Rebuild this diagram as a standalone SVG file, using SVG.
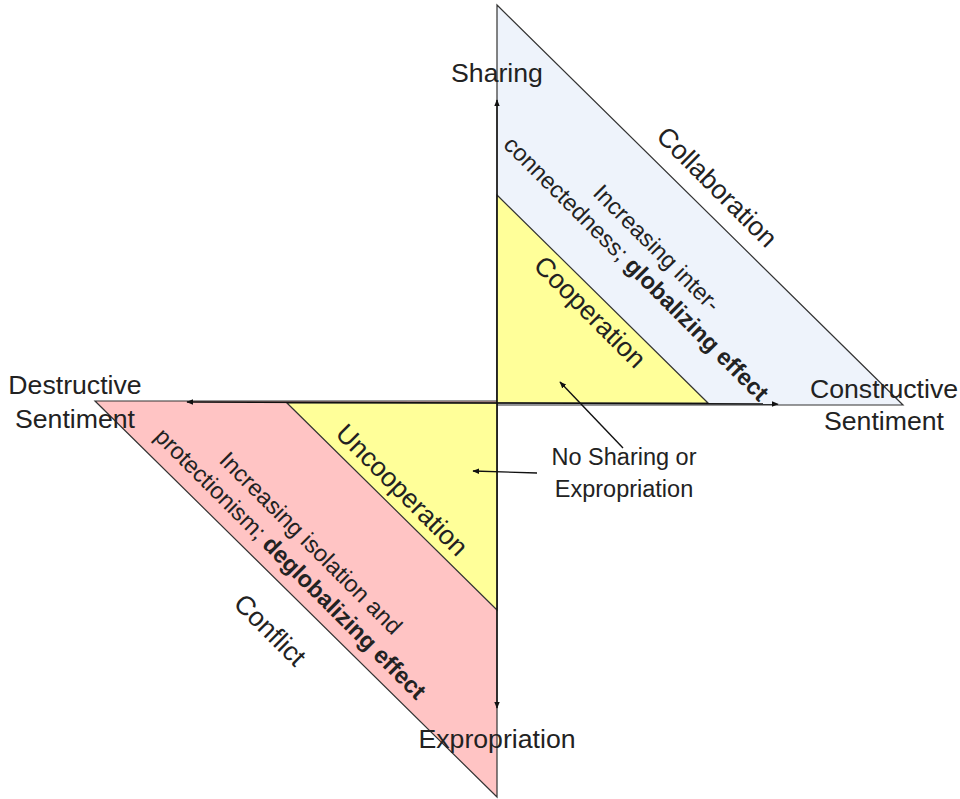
<svg xmlns="http://www.w3.org/2000/svg" width="960" height="799" viewBox="0 0 960 799">
<defs>
<style>
text{font-family:"Liberation Sans",Arial,sans-serif;fill:#222}
.big{font-size:26.67px}
.mid{font-size:23.5px}
.b{font-weight:bold}
.tri{stroke:#333;stroke-width:1.2}
.ax{stroke:#111;stroke-width:1.4;fill:none}
</style>
<marker id="ah" viewBox="0 0 10 10" refX="9" refY="5" markerWidth="7" markerHeight="7" orient="auto" markerUnits="userSpaceOnUse">
<path d="M0,1 L10,5 L0,9 z" fill="#111"/>
</marker>
</defs>
<rect width="960" height="799" fill="#fff"/>
<g id="collaboration">
<polygon class="tri" points="497,5 903,405 497,405" fill="#eef3fb"/>
</g>
<g id="conflict">
<polygon class="tri" points="95,401 497,401 497,797" fill="#ffc4c4"/>
</g>
<g id="cooperation">
<polygon class="tri" points="497,195 708,403 497,403" fill="#ffff99"/>
</g>
<g id="uncooperation">
<polygon class="tri" points="287,403 497,403 497,610" fill="#ffff99"/>
</g>
<g id="connectors">
<line class="ax" x1="497" y1="403" x2="497" y2="100" marker-end="url(#ah)"/>
<line class="ax" x1="497" y1="403" x2="497" y2="708" marker-end="url(#ah)"/>
<line class="ax" x1="497" y1="403" x2="187" y2="402" marker-end="url(#ah)"/>
<line class="ax" x1="497" y1="403" x2="778" y2="404" marker-end="url(#ah)"/>
<line class="ax" x1="623" y1="448" x2="560" y2="382" marker-end="url(#ah)"/>
<line class="ax" x1="537" y1="473" x2="473" y2="471" marker-end="url(#ah)"/>
</g>
<g id="labels">
<text class="big" x="497" y="82" text-anchor="middle">Sharing</text>
<text class="big" x="884" y="398" text-anchor="middle">Constructive</text>
<text class="big" x="884" y="430" text-anchor="middle">Sentiment</text>
<text class="big" x="75" y="394" text-anchor="middle">Destructive</text>
<text class="big" x="75" y="428" text-anchor="middle">Sentiment</text>
<text class="big" x="497" y="748" text-anchor="middle">Expropriation</text>
<text class="mid" x="624" y="465" text-anchor="middle">No Sharing or</text>
<text class="mid" x="624" y="497" text-anchor="middle">Expropriation</text>
</g>
<g id="rotated">
<g transform="translate(717,187) rotate(45)"><text class="big" x="0" y="9" text-anchor="middle">Collaboration</text></g>
<g transform="translate(590,312) rotate(45)"><text class="big" x="0" y="9" text-anchor="middle">Cooperation</text></g>
<g transform="translate(402,490) rotate(45)"><text class="big" x="0" y="9" text-anchor="middle">Uncooperation</text></g>
<g transform="translate(270,630) rotate(45)"><text class="big" x="0" y="9" text-anchor="middle">Conflict</text></g>
<g transform="translate(647,258) rotate(45)">
<text class="mid" x="0" y="-6" text-anchor="middle">Increasing inter-</text>
<text class="mid" x="0" y="23" text-anchor="middle">connectedness; <tspan class="b">globalizing effect</tspan></text>
</g>
<g transform="translate(301,553) rotate(45)">
<text class="mid" x="0" y="-6" text-anchor="middle">Increasing isolation and</text>
<text class="mid" x="0" y="23" text-anchor="middle">protectionism; <tspan class="b">deglobalizing effect</tspan></text>
</g>
</g>
</svg>
